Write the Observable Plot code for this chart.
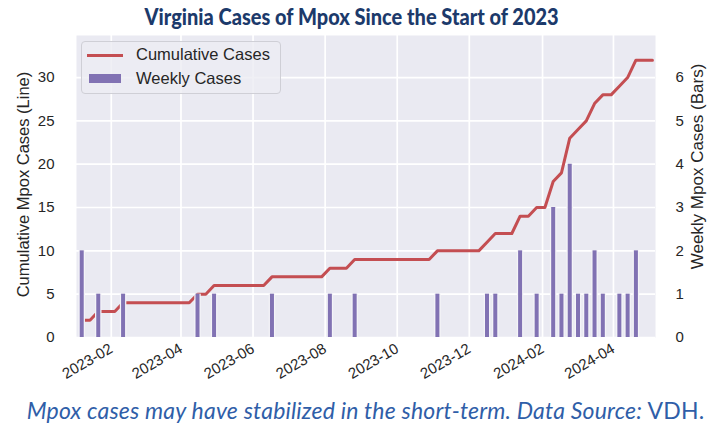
<!DOCTYPE html>
<html>
<head>
<meta charset="utf-8">
<script src="https://cdn.jsdelivr.net/npm/d3@7"></script>
<script src="https://cdn.jsdelivr.net/npm/@observablehq/plot@0.6"></script>
<style>
  body { margin: 0; background: #ffffff; }
  #wrap { position: relative; width: 707px; height: 423px; overflow: hidden; background: #fff; }
  #title { height: 32px; text-align: center; white-space: nowrap; }
  #title span { display: inline-block; font-family: Lato, "Open Sans", sans-serif; font-weight: 900; font-size: 23.5px; line-height: 32px; color: #1c3a6b; transform: scaleX(0.85); transform-origin: center; position: relative; left: -2px; }
  #caption { text-align: center; white-space: nowrap; }
  #caption span { display: inline-block; font-family: Lato, "Open Sans", sans-serif; font-size: 23px; line-height: 24px; letter-spacing: 0.2px; color: #2f5ea8; position: relative; left: 12px; }
  #legend { position: absolute; left: 81px; top: 41px; width: 198px; height: 51px; background: rgba(236,236,243,0.8); border: 1px solid #cfcfd6; border-radius: 4px; font-family: "Liberation Sans", Arial, sans-serif; font-size: 16.5px; color: #262626; }
  #legend .sw { position: absolute; }
  #legend .lab { position: absolute; left: 54px; white-space: nowrap; }
</style>
</head>
<body>
<div id="wrap">
  <div id="title"><span>Virginia Cases of Mpox Since the Start of 2023</span></div>
  <div id="chart"></div>
  <div id="caption"><span><i>Mpox cases may have stabilized in the short-term. Data Source:</i> VDH.</span></div>
  <div id="legend">
    <div class="sw" style="left:5px;top:12px;width:36px;height:3px;background:#c44e52;"></div>
    <div class="lab" style="top:3px;">Cumulative Cases</div>
    <div class="sw" style="left:7px;top:32px;width:32px;height:9px;background:#8172b3;"></div>
    <div class="lab" style="top:27px;">Weekly Cases</div>
  </div>
</div>
<script>
// Week-ending dates (Saturdays) covered by the chart
const weeks = [
  "2023-01-07","2023-01-14","2023-01-21","2023-01-28","2023-02-04","2023-02-11","2023-02-18","2023-02-25",
  "2023-03-04","2023-03-11","2023-03-18","2023-03-25","2023-04-01","2023-04-08","2023-04-15","2023-04-22",
  "2023-04-29","2023-05-06","2023-05-13","2023-05-20","2023-05-27","2023-06-03","2023-06-10","2023-06-17",
  "2023-06-24","2023-07-01","2023-07-08","2023-07-15","2023-07-22","2023-07-29","2023-08-05","2023-08-12",
  "2023-08-19","2023-08-26","2023-09-02","2023-09-09","2023-09-16","2023-09-23","2023-09-30","2023-10-07",
  "2023-10-14","2023-10-21","2023-10-28","2023-11-04","2023-11-11","2023-11-18","2023-11-25","2023-12-02",
  "2023-12-09","2023-12-16","2023-12-23","2023-12-30","2024-01-06","2024-01-13","2024-01-20","2024-01-27",
  "2024-02-03","2024-02-10","2024-02-17","2024-02-24","2024-03-02","2024-03-09","2024-03-16","2024-03-23",
  "2024-03-30","2024-04-06","2024-04-13","2024-04-20","2024-04-27","2024-05-04"
];
// Weekly case counts (bars), one per week above
const weeklyCases = [
  2,0,1,0,0,1,0,0,
  0,0,0,0,0,0,1,0,
  1,0,0,0,0,0,0,1,
  0,0,0,0,0,0,1,0,
  0,1,0,0,0,0,0,0,
  0,0,0,1,0,0,0,0,
  0,1,1,0,0,2,0,1,
  0,3,1,4,1,1,2,1,
  0,1,1,2,0,0
];
const xTickDates = ["2023-02-01","2023-04-01","2023-06-01","2023-08-01","2023-10-01","2023-12-01","2024-02-01","2024-04-01"];
const leftTicks = [0, 5, 10, 15, 20, 25, 30];
const barToLineRatio = 5; // right axis unit = 5 left-axis units

const cumulativeCases = Array.from(d3.cumsum(weeklyCases));
const rows = weeks.map((w, i) => ({date: new Date(w + "T00:00Z"), cases: weeklyCases[i], cum: cumulativeCases[i]}));
const barRows = rows.filter(d => d.cases > 0);
const xTicks = xTickDates.map(d => new Date(d + "T00:00Z"));

const chart = Plot.plot({
  width: 707,
  height: 366,
  marginLeft: 76,
  marginRight: 52,
  marginTop: 3,
  marginBottom: 61,
  x: {type: "utc", domain: [new Date("2023-01-02T14:00Z"), new Date("2024-05-06T14:00Z")]},
  y: {domain: [0, 34.85]},
  style: {fontFamily: "'Liberation Sans', Arial, sans-serif", fontSize: "15px", color: "#262626", background: "transparent", overflow: "visible"},
  marks: [
    Plot.frame({fill: "#eaeaf2", stroke: null}),
    Plot.gridX({ticks: xTicks, stroke: "#ffffff", strokeOpacity: 1, strokeWidth: 1.7}),
    Plot.gridY({ticks: leftTicks, stroke: "#ffffff", strokeOpacity: 1, strokeWidth: 1.7}),
    Plot.line(rows, {x: "date", y: "cum", stroke: "#c44e52", strokeWidth: 3}),
    Plot.ruleX(barRows, {x: "date", y1: 0, y2: d => d.cases * barToLineRatio, stroke: "#f4f4f8", strokeWidth: 6.5}),
    Plot.ruleX(barRows, {x: "date", y1: 0, y2: d => d.cases * barToLineRatio, stroke: "#8172b3", strokeWidth: 4}),
    Plot.axisX({ticks: xTicks, tickFormat: d3.utcFormat("%Y-%m"), tickRotate: -30, tickSize: 0, tickPadding: 10, label: null, fill: "#262626"}),
    Plot.axisY({ticks: leftTicks, anchor: "left", tickSize: 0, tickPadding: 22, label: null, fill: "#262626"}),
    Plot.axisY({ticks: leftTicks, anchor: "right", tickSize: 0, tickPadding: 20, tickFormat: d => d / barToLineRatio, label: null, fill: "#262626"}),
    Plot.text(["Cumulative Mpox Cases (Line)"], {frameAnchor: "left", textAnchor: "middle", dx: -53, dy: -2, rotate: -90, fontSize: 16.5, fill: "#262626"}),
    Plot.text(["Weekly Mpox Cases (Bars)"], {frameAnchor: "right", textAnchor: "middle", dx: 42, dy: -20, rotate: -90, fontSize: 17, fill: "#262626"})
  ]
});
document.getElementById("chart").appendChild(chart);
</script>
</body>
</html>
